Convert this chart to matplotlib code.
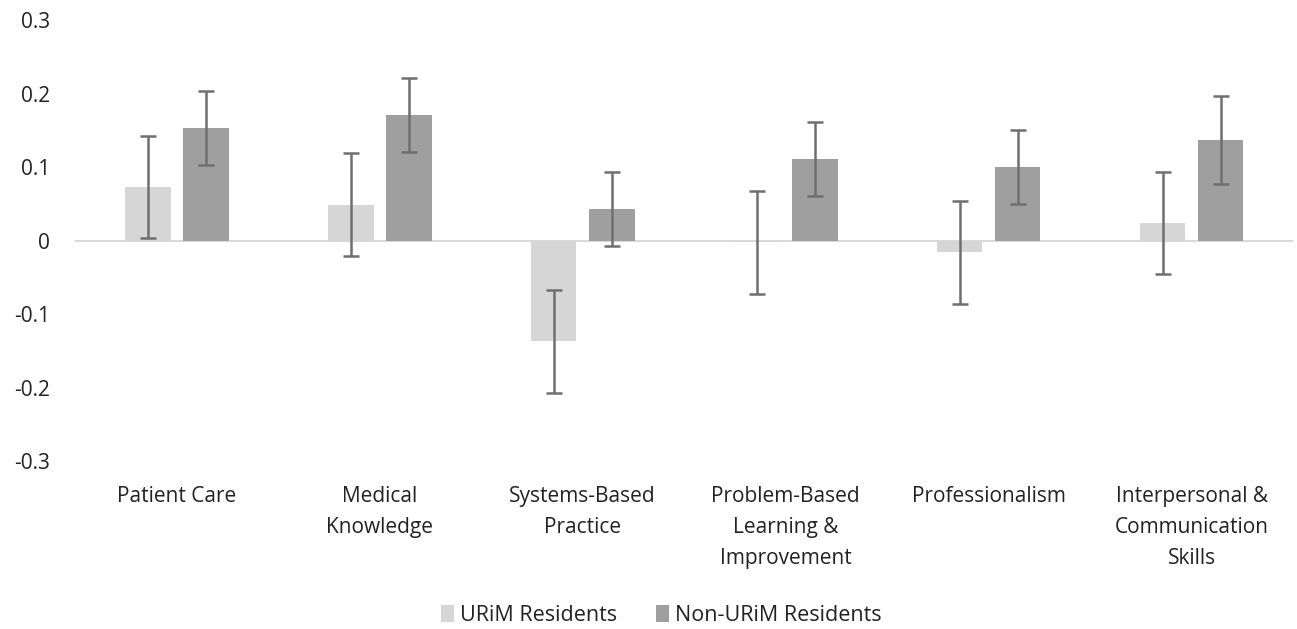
import matplotlib
matplotlib.use('Agg')
import matplotlib.pyplot as plt
import numpy as np

# Daten
categories = ["Patient Care", "Medical\nKnowledge", "Systems-Based\nPractice",
              "Problem-Based\nLearning &\nImprovement", "Professionalism",
              "Interpersonal &\nCommunication\nSkills"]
urim = [0.073, 0.049, -0.137, -0.002, -0.016, 0.024]
urim_err = [0.07, 0.07, 0.07, 0.07, 0.07, 0.07]
non_urim = [0.153, 0.171, 0.043, 0.111, 0.100, 0.137]
non_urim_err = [0.05, 0.05, 0.05, 0.05, 0.05, 0.06]
yticks = [-0.3, -0.2, -0.1, 0, 0.1, 0.2, 0.3]
ytick_labels = ["-0.3", "-0.2", "-0.1", "0", "0.1", "0.2", "0.3"]

plt.rcParams['font.family'] = ['Open Sans', 'DejaVu Sans']

fig = plt.figure(figsize=(12.97, 6.29), dpi=100)
ax = fig.add_axes([0.058, 0.267, 0.939, 0.701])

x = np.arange(len(categories))
w = 0.225
off = 0.143
err_kw = dict(ecolor="#6f6f6f", elinewidth=1.8, capsize=6, capthick=1.8)

ax.bar(x - off, urim, w, color="#d6d6d6", yerr=urim_err, error_kw=err_kw,
       label="URiM Residents", zorder=2)
ax.bar(x + off, non_urim, w, color="#9f9f9f", yerr=non_urim_err, error_kw=err_kw,
       label="Non-URiM Residents", zorder=2)

ax.axhline(0, color="#d9d9d9", linewidth=1.5, zorder=1)

ax.set_xlim(-0.5, len(categories) - 0.5)
ax.set_ylim(-0.3, 0.3)
ax.set_yticks(yticks)
ax.set_yticklabels(ytick_labels, fontsize=15, color="#222222")
ax.set_xticks(x)
ax.set_xticklabels(categories, fontsize=15, color="#222222", linespacing=1.62)
ax.tick_params(axis="y", length=0, pad=18)
ax.tick_params(axis="x", length=0, pad=18)
for s in ax.spines.values():
    s.set_visible(False)

fig.legend(loc="lower center", bbox_to_anchor=(0.51, -0.026), ncol=2, frameon=False,
           fontsize=15.5, handlelength=0.6, handleheight=0.8, columnspacing=1.8,
           handletextpad=0.3, labelcolor="#222222")

plt.savefig("out.png")
